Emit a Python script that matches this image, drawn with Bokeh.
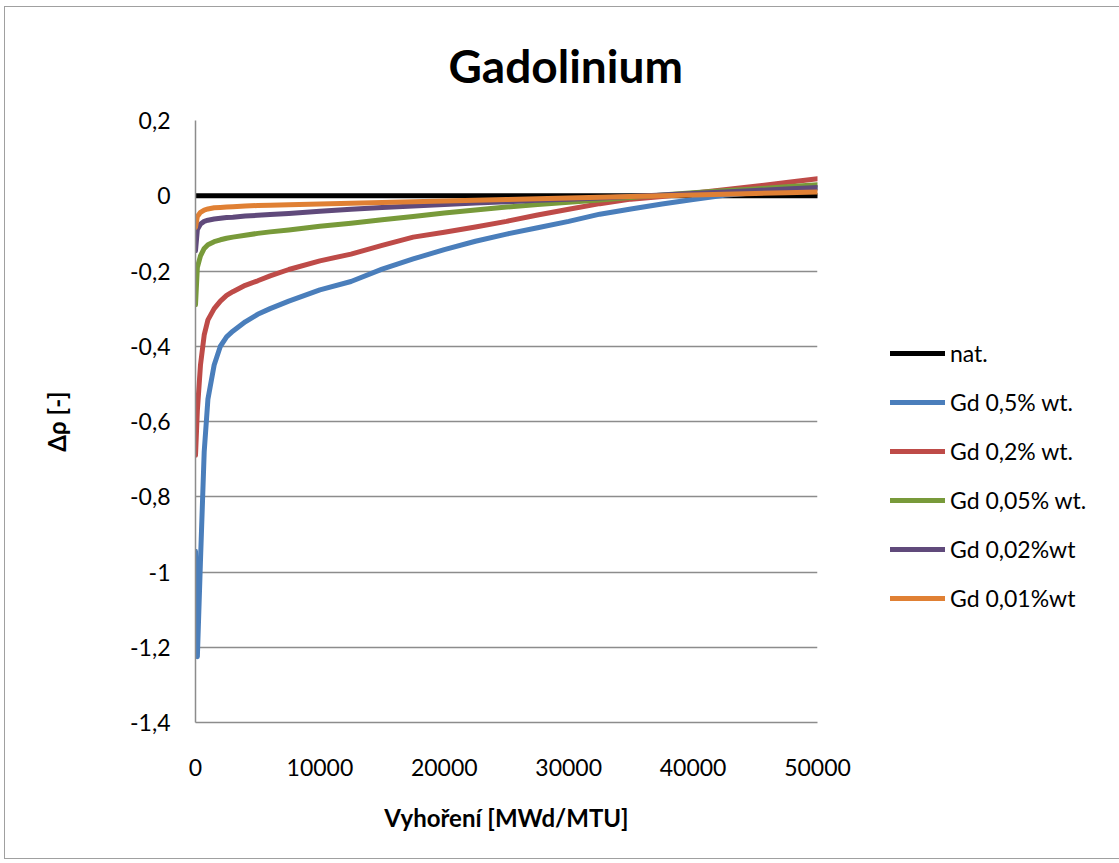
from bokeh.plotting import figure
from bokeh.models import (Range1d, FixedTicker, CustomJSTickFormatter, Legend, LegendItem)
from bokeh.embed import file_html
from bokeh.resources import INLINE

# ---- data ----
burnup = [0, 150, 400, 700, 1000, 1500, 2000, 2500, 3000, 4000, 5000, 6000, 7500,
          10000, 12500, 15000, 17500, 20000, 22500, 25000, 27500, 30000, 32500,
          35000, 37500, 40000, 42500, 45000, 47500, 50000]

nat = [0.0] * len(burnup)
gd_05 = [-0.945, -1.225, -0.97, -0.68, -0.54, -0.45, -0.40, -0.375, -0.36, -0.335,
         -0.315, -0.30, -0.28, -0.25, -0.228, -0.195, -0.168, -0.143, -0.121, -0.102,
         -0.085, -0.068, -0.049, -0.035, -0.022, -0.010, 0.001, 0.008, 0.014, 0.020]
gd_02 = [-0.69, -0.57, -0.45, -0.37, -0.33, -0.30, -0.28, -0.265, -0.255, -0.238,
         -0.226, -0.213, -0.196, -0.173, -0.155, -0.132, -0.110, -0.097, -0.083, -0.068,
         -0.051, -0.036, -0.021, -0.009, -0.002, 0.007, 0.016, 0.025, 0.035, 0.045]
gd_005 = [-0.29, -0.19, -0.16, -0.14, -0.13, -0.122, -0.117, -0.113, -0.110, -0.105,
          -0.100, -0.096, -0.091, -0.081, -0.073, -0.064, -0.055, -0.046, -0.038, -0.030,
          -0.023, -0.017, -0.011, -0.005, 0.002, 0.008, 0.013, 0.018, 0.024, 0.029]
gd_002 = [-0.146, -0.09, -0.075, -0.068, -0.065, -0.062, -0.060, -0.058, -0.057, -0.054,
          -0.052, -0.050, -0.047, -0.041, -0.036, -0.031, -0.027, -0.023, -0.019, -0.016,
          -0.012, -0.009, -0.006, -0.002, 0.002, 0.006, 0.010, 0.014, 0.018, 0.022]
gd_001 = [-0.084, -0.055, -0.044, -0.038, -0.035, -0.032, -0.031, -0.030, -0.029, -0.027,
          -0.026, -0.025, -0.024, -0.022, -0.020, -0.018, -0.016, -0.014, -0.012, -0.010,
          -0.008, -0.006, -0.004, -0.002, 0.000, 0.002, 0.004, 0.006, 0.008, 0.010]

series_names = ["nat.", "Gd 0,5% wt.", "Gd 0,2% wt.", "Gd 0,05% wt.", "Gd 0,02%wt", "Gd 0,01%wt"]
series_values = [nat, gd_05, gd_02, gd_005, gd_002, gd_001]
series_colors = ["#000000", "#4A7EBB", "#BE4B48", "#789A3A", "#604A7B", "#E08034"]

x_ticks = [0, 10000, 20000, 30000, 40000, 50000]
y_ticks = [-1.4, -1.2, -1.0, -0.8, -0.6, -0.4, -0.2, 0.0, 0.2]

title_text = "Gadolinium"
x_label = "Vyhoření [MWd/MTU]"
y_label = "Δρ [-]"

FONT = "Lato"
GRID = "#8c8c8c"

p = figure(width=1109, height=851, output_backend="svg", toolbar_location=None,
           x_range=Range1d(0, 50000), y_range=Range1d(-1.4, 0.2),
           frame_width=622, frame_height=602,
           min_border_left=190, min_border_top=113, min_border_right=297, min_border_bottom=136)
p.styles = {"border": "1px solid #a0a0a0", "margin-left": "4px", "margin-top": "6px"}
p.outline_line_color = None
p.background_fill_color = "white"
p.border_fill_color = "white"

# title
p.title.text = title_text
p.title.align = "left"
p.title.offset = 253
p.title.vertical_align = "middle"
p.title.text_font = FONT
p.title.text_font_style = "bold"
p.title.text_font_size = "46px"
p.title.text_color = "black"
p.title.standoff = 54

# axes
p.xaxis.ticker = FixedTicker(ticks=x_ticks)
p.yaxis.ticker = FixedTicker(ticks=y_ticks)
p.yaxis.formatter = CustomJSTickFormatter(code="""
    var v = Math.round(tick * 10) / 10;
    if (Math.abs(v) < 1e-9) { v = 0; }
    return v.toString().replace('.', ',');
""")
p.xaxis.formatter = CustomJSTickFormatter(code="return Math.round(tick).toString();")
for ax in (p.xaxis[0], p.yaxis[0]):
    ax.major_tick_out = 0
    ax.major_tick_in = 0
    ax.minor_tick_out = 0
    ax.minor_tick_in = 0
    ax.axis_line_color = GRID
    ax.axis_line_width = 1.5
    ax.major_label_text_font = FONT
    ax.major_label_text_font_size = "23px"
    ax.major_label_text_color = "black"
    ax.axis_label_text_font = FONT
    ax.axis_label_text_font_style = "bold"
    ax.axis_label_text_font_size = "24px"
    ax.axis_label_text_color = "black"

p.xaxis.axis_label = x_label
p.yaxis.axis_label = y_label
p.xaxis.major_label_standoff = 36
p.xaxis.axis_label_standoff = 24
p.yaxis.major_label_standoff = 25
p.yaxis.major_label_orientation = "horizontal"
p.yaxis.axis_label_standoff = 56

p.xgrid.grid_line_color = None
p.ygrid.grid_line_color = GRID
p.ygrid.grid_line_width = 1.5

# series
items = []
for name, vals, col in zip(series_names, series_values, series_colors):
    r = p.line(burnup, vals, line_color=col, line_width=5, line_join="round", line_cap="round")
    items.append(LegendItem(label=name, renderers=[r]))

legend = Legend(items=items, location=(73, 110), orientation="vertical",
                glyph_width=55, glyph_height=20, label_height=20, spacing=21,
                label_standoff=5, padding=0, margin=0,
                label_text_font=FONT, label_text_font_size="23px", label_text_color="black",
                border_line_color=None, background_fill_alpha=0)
p.add_layout(legend, "right")

open("out.html", "w").write(file_html(p, INLINE))
